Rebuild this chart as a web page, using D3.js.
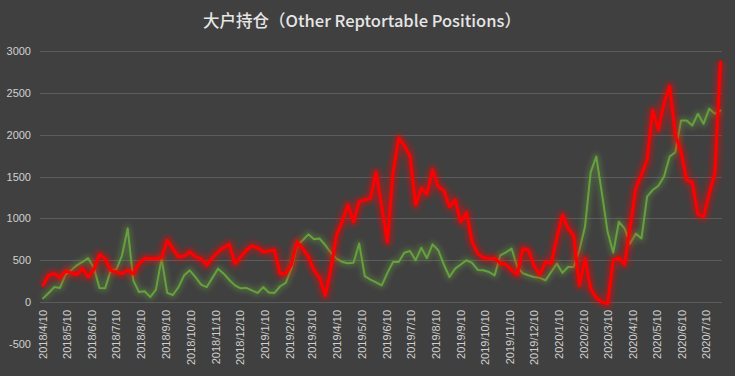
<!DOCTYPE html>
<html>
<head>
<meta charset="utf-8">
<script src="https://cdn.jsdelivr.net/npm/d3@7/dist/d3.min.js"></script>
<style>
  html, body { margin: 0; padding: 0; background: #404040; }
  svg { display: block; }
</style>
</head>
<body>
<div id="chart"></div>
<script>
// Chart text
const titleText = "大户持仓（Other Reptortable Positions）";

// Weekly reports, first one on 2018/4/10
const firstReport = "2018/4/10";

// Red series (weekly)
const redValues = [
  200, 320, 340, 290, 370, 350, 330, 400, 300, 390,
  570, 520, 380, 360, 340, 380, 340, 460, 520, 520,
  520, 530, 740, 640, 540, 550, 600, 540, 520, 440,
  530, 600, 650, 690, 460, 540, 620, 670, 650, 600,
  610, 620, 340, 340, 450, 720, 640, 540, 380, 290,
  80, 400, 800, 960, 1160, 960, 1200, 1220, 1240, 1550,
  1140, 720, 1550, 1960, 1870, 1750, 1160, 1360, 1290, 1580,
  1380, 1330, 1140, 1220, 960, 1070, 720, 580, 530, 520,
  520, 465, 450, 380, 330, 640, 620, 430, 330, 480,
  460, 760, 1040, 880, 800, 200, 520, 160, 50, 0,
  -20, 500, 530, 450, 900, 1360, 1520, 1700, 2290, 2060,
  2380, 2580, 2000, 1800, 1460, 1430, 1050, 1020, 1300, 1540,
  2870
];

// Green series (weekly)
const greenValues = [
  45, 110, 180, 170, 330, 380, 440, 480, 525, 410,
  170, 165, 380, 390, 560, 880, 260, 120, 130, 60,
  150, 520, 110, 85, 180, 320, 380, 300, 210, 180,
  290, 400, 340, 265, 200, 165, 170, 140, 110, 180,
  115, 110, 190, 230, 400, 680, 740, 810, 750, 760,
  680, 590, 520, 480, 465, 470, 700, 310, 270, 235,
  200, 350, 480, 480, 590, 610, 500, 650, 525, 690,
  620, 450, 300, 400, 450, 500, 470, 385, 380, 360,
  320, 560, 595, 640, 420, 345, 320, 300, 290, 260,
  360, 460, 350, 420, 420, 620, 900, 1550, 1740, 1300,
  840, 590, 960, 880, 700, 820, 760, 1260, 1340, 1390,
  1500, 1740, 1790, 2170, 2170, 2110, 2250, 2130, 2310, 2250,
  2290
];

// Axis ticks
const yTicks = [-500, 0, 500, 1000, 1500, 2000, 2500, 3000];
const monthLabels = [
  "2018/4/10", "2018/5/10", "2018/6/10", "2018/7/10", "2018/8/10", "2018/9/10",
  "2018/10/10", "2018/11/10", "2018/12/10", "2019/1/10", "2019/2/10", "2019/3/10",
  "2019/4/10", "2019/5/10", "2019/6/10", "2019/7/10", "2019/8/10", "2019/9/10",
  "2019/10/10", "2019/11/10", "2019/12/10", "2020/1/10", "2020/2/10", "2020/3/10",
  "2020/4/10", "2020/5/10", "2020/6/10", "2020/7/10"
];

const width = 735;
const height = 376;
const plot = { left: 40, right: 722, top: 51, bottom: 344 };

const parseDate = d3.timeParse("%Y/%m/%d");
const start = parseDate(firstReport);
const dates = d3.range(redValues.length).map(i => d3.timeDay.offset(start, 7 * i));

const svg = d3.select("#chart")
  .append("svg")
    .attr("width", width)
    .attr("height", height)
    .style("background", "#404040");

// soft glow under the lines
const defs = svg.append("defs");
defs.append("filter")
    .attr("id", "blur")
    .attr("x", "-10%").attr("y", "-10%")
    .attr("width", "120%").attr("height", "120%")
  .append("feGaussianBlur")
    .attr("stdDeviation", 2.8);

const x = d3.scaleTime()
  .domain([start, dates[dates.length - 1]])
  .range([43, 720.5]);

const y = d3.scaleLinear()
  .domain([-500, 3000])
  .range([plot.bottom, plot.top]);

// Title
svg.append("text")
  .attr("x", 362)
  .attr("y", 27)
  .attr("text-anchor", "middle")
  .style("font-family", "'Noto Sans CJK SC', 'Noto Sans', sans-serif")
  .style("font-size", "16.5px")
  .style("font-weight", "500")
  .style("fill", "#e6e6e6")
  .text(titleText);

// Gridlines (not at the bottom)
svg.append("g")
  .selectAll("line")
  .data(yTicks.filter(d => d > -500))
  .join("line")
    .attr("x1", plot.left)
    .attr("x2", plot.right)
    .attr("y1", d => Math.round(y(d)) + 0.5)
    .attr("y2", d => Math.round(y(d)) + 0.5)
    .attr("stroke", "#5c5c5c")
    .attr("stroke-width", 1);

// Y axis labels
svg.append("g")
  .selectAll("text")
  .data(yTicks)
  .join("text")
    .attr("x", 31)
    .attr("y", d => y(d) + 4)
    .attr("text-anchor", "end")
    .style("font-family", "'Liberation Sans', Arial, sans-serif")
    .style("font-size", "11px")
    .style("fill", "#d0d0d0")
    .text(d => d);

// X axis labels, rotated
svg.append("g")
  .selectAll("text")
  .data(monthLabels)
  .join("text")
    .attr("transform", d => `translate(${x(parseDate(d)) + 4},310) rotate(-90)`)
    .attr("text-anchor", "end")
    .style("font-family", "'Liberation Sans', Arial, sans-serif")
    .style("font-size", "11px")
    .style("fill", "#d0d0d0")
    .text(d => d);

const line = d3.line()
  .x((d, i) => x(dates[i]))
  .y(d => y(d));

function drawSeries(values, color, w, glowW, glowOpacity) {
  svg.append("path")
    .datum(values)
    .attr("d", line)
    .attr("fill", "none")
    .attr("stroke", color)
    .attr("stroke-width", glowW)
    .attr("stroke-linejoin", "round")
    .attr("opacity", glowOpacity)
    .attr("filter", "url(#blur)");
  svg.append("path")
    .datum(values)
    .attr("d", line)
    .attr("fill", "none")
    .attr("stroke", color)
    .attr("stroke-width", w)
    .attr("stroke-linejoin", "round")
    .attr("stroke-linecap", "round");
}

drawSeries(greenValues, "#67a03e", 2, 7, 0.35);
drawSeries(redValues, "#ff0000", 3, 9, 0.45);
</script>
</body>
</html>
